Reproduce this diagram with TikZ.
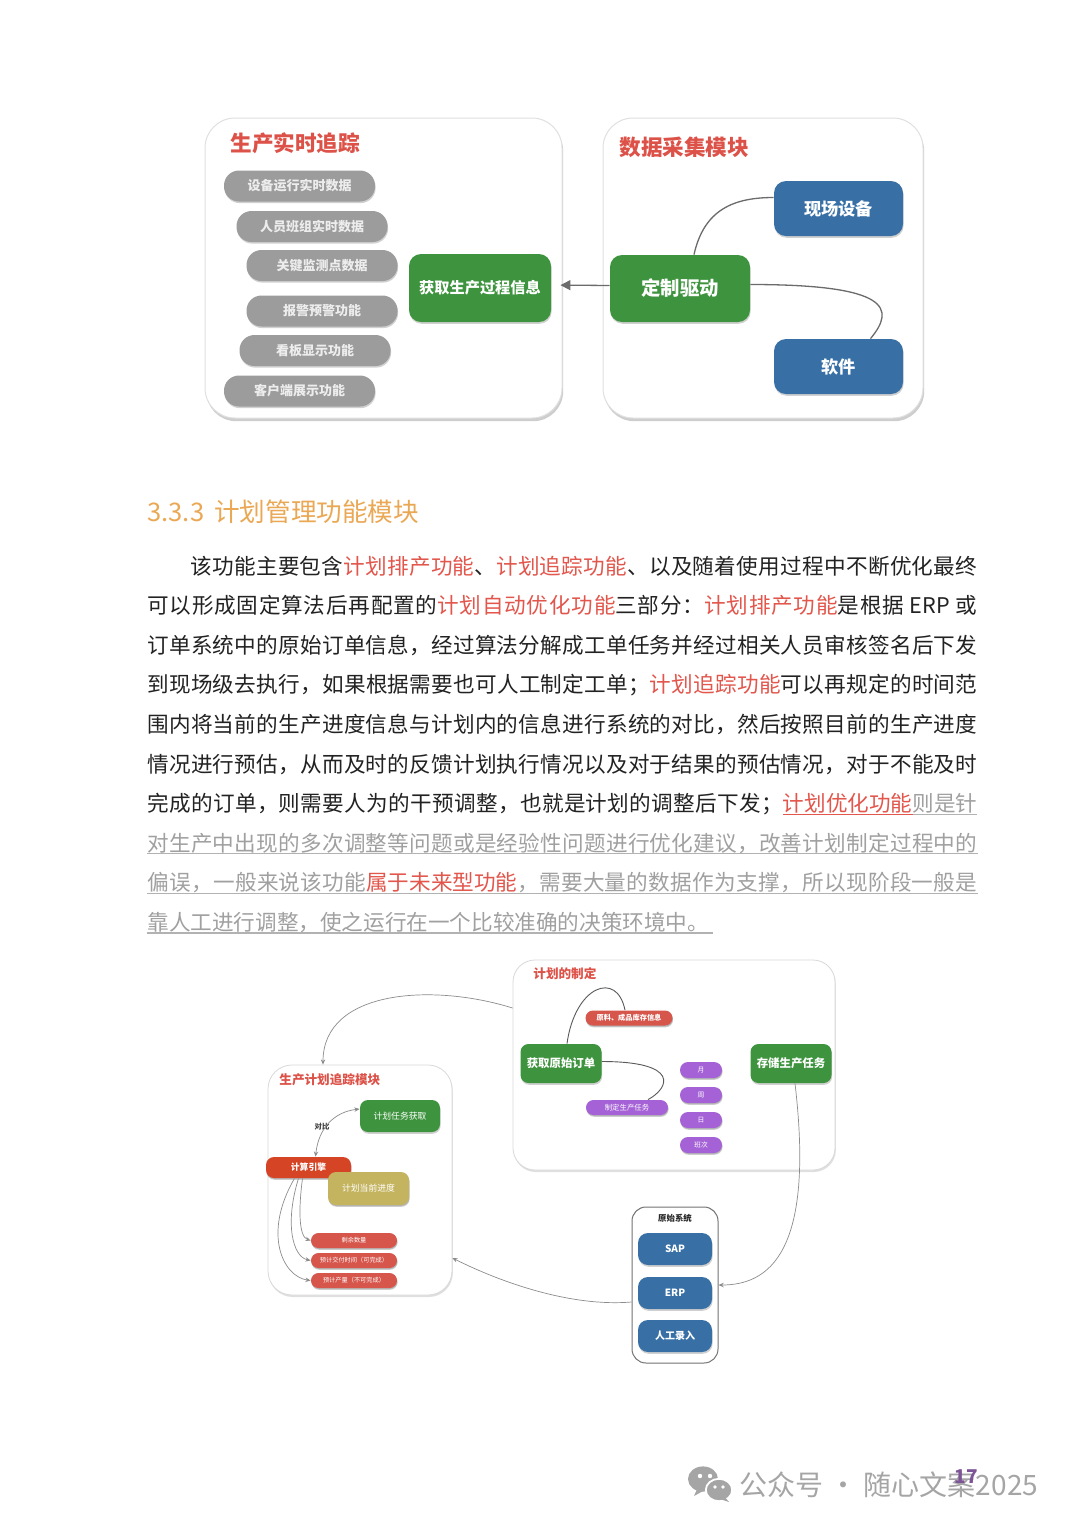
\documentclass[tikz,border=0pt]{standalone}
\usepackage{fontspec}
\setmainfont{Noto Sans CJK SC}
\usetikzlibrary{shadows,arrows.meta}
\newcount\cjkcc
\cjkcc="4E00
\loop\XeTeXcharclass\cjkcc=7 \advance\cjkcc by 1 \ifnum\cjkcc<"A000 \repeat
\XeTeXcharclass"3001=7 \XeTeXcharclass"3002=7 \XeTeXcharclass"FF0C=7
\XeTeXcharclass"FF1A=7 \XeTeXcharclass"FF1B=7
\XeTeXinterchartokenstate=1
\XeTeXinterchartoks 7 7 = {\hskip 0pt plus 1pt minus 0.2pt\relax}
\definecolor{ttl}{RGB}{221,82,72}
\definecolor{pillg}{RGB}{156,156,156}
\definecolor{grn}{RGB}{62,148,62}
\definecolor{blu}{RGB}{56,112,166}
\definecolor{hdr}{RGB}{234,168,84}
\definecolor{txt}{RGB}{34,34,34}
\definecolor{hl}{RGB}{226,86,76}
\definecolor{gtx}{RGB}{160,160,160}
\definecolor{ulg}{RGB}{178,178,178}
\definecolor{ulk}{RGB}{60,60,60}
\definecolor{ppl}{RGB}{165,98,214}
\definecolor{olv}{RGB}{196,180,96}
\definecolor{eng}{RGB}{214,68,38}
\definecolor{rpl}{RGB}{214,86,76}
\definecolor{wx}{RGB}{165,165,165}
\definecolor{pgn}{RGB}{125,85,150}
\newcommand\hlt[1]{\textcolor{hl}{#1}}
\newcommand\ulx[2]{\setbox0=\hbox{#2}\rlap{\color{#1}\rule[-1.6pt]{\wd0}{0.55pt}}\box0}
\begin{document}
\begin{tikzpicture}[x=0.5pt,y=-0.5pt,
 panel/.style={draw=black!12, fill=white, line width=0.5pt, rounded corners=15pt,
   drop shadow={shadow xshift=0.6pt, shadow yshift=-1.6pt, opacity=0.35, fill=black!55}},
 bpanel/.style={draw=black!15, fill=white, line width=0.4pt, rounded corners=11pt,
   drop shadow={shadow xshift=0.4pt, shadow yshift=-1pt, opacity=0.25, fill=black!50}},
 ptitle/.style={inner sep=0pt, text=ttl, font=\bfseries\fontsize{10.8pt}{12pt}\selectfont},
 btitle/.style={inner sep=0pt, text=ttl, font=\bfseries\fontsize{6.3pt}{7pt}\selectfont},
 pill/.style={fill=pillg, text=white!93!black, rounded corners=7.5pt, minimum width=75.5pt,
   minimum height=15.5pt, inner sep=0pt, font=\bfseries\fontsize{6.5pt}{7pt}\selectfont,
   drop shadow={shadow xshift=0.3pt, shadow yshift=-0.8pt, opacity=0.3, fill=black!60}},
 box/.style={text=white, inner sep=0pt, align=center,
   drop shadow={shadow xshift=0.3pt, shadow yshift=-0.9pt, opacity=0.3, fill=black!60}},
 gbox/.style={box, fill=grn, rounded corners=6pt},
 bbox/.style={box, fill=blu, rounded corners=6pt},
 sbox/.style={box, inner sep=0pt, drop shadow={shadow xshift=0.2pt, shadow yshift=-0.5pt, opacity=0.25, fill=black!60}},
 conn/.style={draw=black!58, line width=0.65pt},
 arr/.style={conn, -{Triangle[length=5pt,width=5pt]}},
 thin/.style={draw=black!45, line width=0.35pt},
 tarr/.style={thin, -{Stealth[length=2.6pt,width=2.2pt]}},
 bodyline/.style={anchor=base west, inner sep=0pt, text=txt, font=\fontsize{10.8pt}{13pt}\selectfont},
 ulgl/.style={draw=ulg, line width=0.55pt}
]
\fill[white] (0,0) rectangle (1080,1528);
\useasboundingbox (0,0) rectangle (1080,1528);

% ---------------- top diagram ----------------
\node[panel, minimum width=178.5pt, minimum height=150pt] (p1) at (383.5,268) {};
\node[panel, minimum width=160pt, minimum height=150pt] (p2) at (763,268) {};
\node[ptitle, anchor=west] (t1) at (230,143) {生产实时追踪};
\node[ptitle, anchor=west] (t2) at (619,147) {数据采集模块};

\node[pill] (a1) at (299.5,186) {设备运行实时数据};
\node[pill] (a2) at (312,226.5) {人员班组实时数据};
\node[pill] (a3) at (322,265.5) {关键监测点数据};
\node[pill] (a4) at (322,311) {报警预警功能};
\node[pill] (a5) at (315,350.5) {看板显示功能};
\node[pill] (a6) at (299.5,391) {客户端展示功能};

\node[gbox, minimum width=71pt, minimum height=34pt, font=\bfseries\fontsize{7.6pt}{8pt}\selectfont] (hq) at (480,288) {获取生产过程信息};
\node[gbox, minimum width=70pt, minimum height=33.5pt, font=\bfseries\fontsize{9.7pt}{10pt}\selectfont] (dz) at (680,288.5) {定制驱动};
\node[bbox, minimum width=64.5pt, minimum height=27.5pt, font=\bfseries\fontsize{8.6pt}{9pt}\selectfont] (xc) at (838.5,208.5) {现场设备};
\node[bbox, minimum width=64.5pt, minimum height=27.5pt, font=\bfseries\fontsize{8.6pt}{9pt}\selectfont] (rj) at (838.5,366.5) {软件};

\draw[arr, shorten >=4.5pt] ([yshift=1.5pt]dz.west) -- ([yshift=1.5pt]hq.east);
\draw[conn] ([xshift=7pt]dz.north) .. controls +(10,-45) and +(-40,0) .. ([yshift=5.5pt]xc.west);
\draw[conn] ([yshift=2pt]dz.east) .. controls +(140,0) and +(25,-30) .. ([xshift=16pt]rj.north);

% ---------------- heading and text ----------------
\node[anchor=base west, inner sep=0pt, text=hdr, font=\fontsize{12.8pt}{14pt}\selectfont] (h1) at (147,521) {3.3.3\hspace{5pt}计划管理功能模块};

\node[bodyline] (l1) at (190,574) {\makebox[393.5pt][s]{该功能主要包含\hlt{计划排产功能}、\hlt{计划追踪功能}、以及随着使用过程中不断优化最终}};
\node[bodyline] (l2) at (147,613.6) {\makebox[415pt][s]{可以形成固定算法后再配置的\hlt{计划自动优化功能}三部分：\hlt{计划排产功能}是根据 ERP 或}};
\node[bodyline] (l3) at (147,653.2) {\makebox[415pt][s]{订单系统中的原始订单信息，经过算法分解成工单任务并经过相关人员审核签名后下发}};
\node[bodyline] (l4) at (147,692.8) {\makebox[415pt][s]{到现场级去执行，如果根据需要也可人工制定工单；\hlt{计划追踪功能}可以再规定的时间范}};
\node[bodyline] (l5) at (147,732.4) {\makebox[415pt][s]{围内将当前的生产进度信息与计划内的信息进行系统的对比，然后按照目前的生产进度}};
\node[bodyline] (l6) at (147,772) {\makebox[415pt][s]{情况进行预估，从而及时的反馈计划执行情况以及对于结果的预估情况，对于不能及时}};
\node[bodyline] (l7) at (147,811.6) {\makebox[415pt][s]{完成的订单，则需要人为的干预调整，也就是计划的调整后下发；\ulx{ulg}{\ulx{hl}{\hlt{计划优化功能}}\textcolor{gtx}{则是针}}}};
\node[bodyline, text=gtx] (l8) at (147,851.2) {\makebox[415pt][s]{对生产中出现的多次调整等问题或是经验性问题进行优化建议，改善计划制定过程中的}};
\node[bodyline, text=gtx] (l9) at (147,890.8) {\makebox[415pt][s]{偏误，一般来说该功能\ulx{hl}{\hlt{属于未来型功能}}\ulx{ulk}{，}需要大量的数据作为支撑，所以现阶段一般是}};
\node[bodyline, text=gtx] (l10) at (147,930.4) {靠人工进行调整，使之运行在一个比较准确的决策环境中\ulx{ulk}{。\hspace*{2pt}}};
\draw[ulgl] ([yshift=-1.3pt]l8.base west) -- ([yshift=-1.3pt]l8.base east);
\draw[ulgl] ([yshift=-1.3pt]l9.base west) -- ([yshift=-1.3pt]l9.base east);
\draw[ulgl] ([yshift=-1.3pt]l10.base west) -- ([yshift=-1.3pt]l10.base east);

% ---------------- bottom diagram ----------------
\node[bpanel, minimum width=161pt, minimum height=105pt] (pa) at (674,1065) {};
\node[bpanel, minimum width=92pt, minimum height=115pt, rounded corners=12pt] (pb) at (360,1180) {};
\node[draw=black!55, fill=white, line width=0.5pt, rounded corners=7pt, minimum width=43pt, minimum height=78pt, inner sep=0pt] (pc) at (675,1285) {};

\node[btitle, anchor=west] (ta) at (533,974) {计划的制定};
\node[btitle, anchor=west] (tb) at (279,1080) {生产计划追踪模块};
\node[inner sep=0pt, text=black!85, font=\bfseries\fontsize{4.2pt}{5pt}\selectfont] (tc) at (675,1218) {原始系统};

% panel A contents
\node[sbox, fill=rpl, rounded corners=3.75pt, minimum width=43.5pt, minimum height=7.5pt, font=\bfseries\fontsize{3.6pt}{4pt}\selectfont] (m1) at (629,1018) {原料、成品库存信息};
\node[gbox, rounded corners=4pt, minimum width=40.5pt, minimum height=19.5pt, font=\bfseries\fontsize{5.7pt}{6pt}\selectfont] (g1) at (561,1063.5) {获取原始订单};
\node[sbox, fill=ppl, rounded corners=3.75pt, minimum width=41pt, minimum height=7.5pt, font=\fontsize{3.7pt}{4pt}\selectfont] (m2) at (627,1107.5) {制定生产任务};
\node[sbox, fill=ppl, rounded corners=4pt, minimum width=21pt, minimum height=8pt, font=\fontsize{3.4pt}{4pt}\selectfont] (s1) at (701,1070) {月};
\node[sbox, fill=ppl, rounded corners=4pt, minimum width=21pt, minimum height=8pt, font=\fontsize{3.4pt}{4pt}\selectfont] (s2) at (701,1095) {周};
\node[sbox, fill=ppl, rounded corners=4pt, minimum width=21pt, minimum height=8pt, font=\fontsize{3.4pt}{4pt}\selectfont] (s3) at (701,1120) {日};
\node[sbox, fill=ppl, rounded corners=4pt, minimum width=21pt, minimum height=8pt, font=\fontsize{3.4pt}{4pt}\selectfont] (s4) at (701,1145) {班次};
\node[gbox, rounded corners=4pt, minimum width=40.5pt, minimum height=19.5pt, font=\bfseries\fontsize{5.7pt}{6pt}\selectfont] (g2) at (791,1063.5) {存储生产任务};

\draw[thin, draw=black!65, line width=0.45pt] ([xshift=3pt]g1.north) .. controls +(8,-58) and +(-8,-40) .. ([xshift=-2pt]m1.north);
\draw[thin, draw=black!65, line width=0.45pt] ([yshift=1pt]g1.east) .. controls +(78,0) and +(22,-12) .. ([xshift=10.5pt]m2.north);

% panel B contents
\node[gbox, rounded corners=4pt, minimum width=40pt, minimum height=16pt, font=\fontsize{4.4pt}{5pt}\selectfont] (rw) at (400,1116) {计划任务获取};
\node[sbox, fill=eng, rounded corners=4pt, minimum width=42.5pt, minimum height=10.5pt, font=\bfseries\fontsize{4.4pt}{5pt}\selectfont] (ce) at (308.5,1167.5) {计算引擎};
\node[sbox, fill=olv, rounded corners=4pt, minimum width=40.5pt, minimum height=16.5pt, font=\fontsize{4.4pt}{5pt}\selectfont] (cp) at (368.5,1188.5) {计划当前进度};
\node[sbox, fill=rpl, rounded corners=3.75pt, minimum width=43pt, minimum height=7.5pt, font=\fontsize{3.1pt}{4pt}\selectfont] (r1) at (354,1240.5) {剩余数量};
\node[sbox, fill=rpl, rounded corners=3.75pt, minimum width=43pt, minimum height=7.5pt, font=\fontsize{3.1pt}{4pt}\selectfont] (r2) at (354,1260.5) {预计交付时间（可完成）};
\node[sbox, fill=rpl, rounded corners=3.75pt, minimum width=43pt, minimum height=7.5pt, font=\fontsize{3.1pt}{4pt}\selectfont] (r3) at (354,1280.5) {预计产量（不可完成）};
\node[inner sep=0pt, text=black!75, font=\bfseries\fontsize{3.7pt}{4pt}\selectfont] (db) at (322,1127) {对比};

\draw[tarr, {Stealth[length=2.6pt,width=2.2pt]}-{Stealth[length=2.6pt,width=2.2pt]}] ([xshift=3.5pt]ce.north) .. controls +(3,-28) and +(-26,3) .. ([yshift=3.5pt]rw.west);
\draw[tarr] ([xshift=-3pt]ce.south) .. controls +(-4,30) and +(-12,-4) .. (r1.west);
\draw[tarr] ([xshift=-5pt]ce.south) .. controls +(-14,45) and +(-18,-4) .. (r2.west);
\draw[tarr] ([xshift=-7pt]ce.south) .. controls +(-32,55) and +(-28,-4) .. (r3.west);

% panel C contents
\node[bbox, rounded corners=5pt, minimum width=37pt, minimum height=16pt, font=\bfseries\fontsize{5pt}{6pt}\selectfont] (sap) at (675,1249) {SAP};
\node[bbox, rounded corners=5pt, minimum width=37pt, minimum height=16pt, font=\bfseries\fontsize{5pt}{6pt}\selectfont] (erp) at (675,1293) {ERP};
\node[bbox, rounded corners=5pt, minimum width=37pt, minimum height=16pt, font=\bfseries\fontsize{5pt}{6pt}\selectfont] (rg) at (675,1336) {人工录入};

% cross-panel connectors
\draw[tarr] ([yshift=28.5pt]pa.west) .. controls +(-80,-25) and +(0,-75) .. ([xshift=-18.5pt]pb.north);
\draw[tarr] ([xshift=2pt]g2.south) .. controls +(20,170) and +(50,0) .. (pc.east);
\draw[tarr] ([yshift=-8.5pt]pc.west) .. controls +(-60,5) and +(50,25) .. ([yshift=-39pt]pb.east);

% ---------------- footer ----------------
\fill[wx] (703,1479) ellipse [x radius=7.5pt, y radius=6.3pt];
\fill[wx] (698,1487) -- (694,1496) -- (705,1490) -- cycle;
\fill[white] (700,1476) circle [radius=1.1pt];
\fill[white] (710,1476) circle [radius=1.1pt];
\filldraw[fill=wx, draw=white, line width=0.9pt] (719,1490) ellipse [x radius=6.6pt, y radius=5.6pt];
\fill[wx] (724,1496) -- (729,1502) -- (720,1499) -- cycle;
\fill[white] (715,1487) circle [radius=0.9pt];
\fill[white] (723,1487) circle [radius=0.9pt];
\node[anchor=west, inner sep=0pt, text=wx, font=\fontsize{14pt}{16pt}\selectfont] (ft) at (739,1485) {公众号 · 随心文案2025};
\node[inner sep=0pt, text=pgn, font=\bfseries\fontsize{9.5pt}{10pt}\selectfont] (pn) at (966,1477) {17};
\end{tikzpicture}
\end{document}
